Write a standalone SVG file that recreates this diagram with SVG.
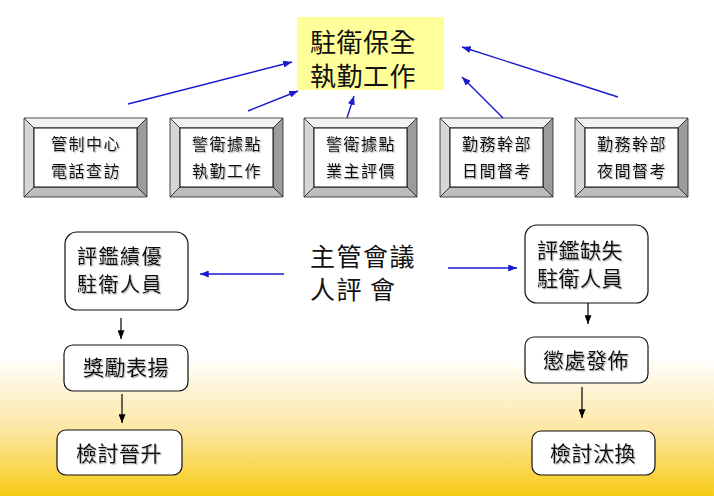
<svg xmlns="http://www.w3.org/2000/svg" width="714" height="496" viewBox="0 0 714 496">
<defs>
<linearGradient id="bg" x1="0" y1="0" x2="0" y2="1">
<stop offset="0" stop-color="#ffffff"/>
<stop offset="0.72" stop-color="#ffffff"/>
<stop offset="0.87" stop-color="#fce6a0"/>
<stop offset="1" stop-color="#f8cb14"/>
</linearGradient>
<marker id="ab" viewBox="0 0 10 8" refX="10" refY="4" markerWidth="9" markerHeight="7" markerUnits="userSpaceOnUse" orient="auto"><path d="M0,0 L10,4 L0,8 Z" fill="#1a1ad0"/></marker>
<marker id="ak" viewBox="0 0 10 8" refX="10" refY="4" markerWidth="9" markerHeight="7" markerUnits="userSpaceOnUse" orient="auto"><path d="M0,0 L10,4 L0,8 Z" fill="#000"/></marker>
<filter id="sh" x="-10%" y="-10%" width="120%" height="130%"><feDropShadow dx="1.2" dy="1.2" stdDeviation="0.6" flood-color="#888" flood-opacity="0.6"/></filter>
</defs>
<style>
text{font-family:"Noto Sans CJK TC","Noto Sans CJK SC",sans-serif;fill:#111;}
.t26{font-size:26px;letter-spacing:0.5px;}
.t25{font-size:25px;letter-spacing:1.5px;}
.t22{font-size:21px;letter-spacing:0.5px;filter:url(#sh);}
.t20{font-size:20px;letter-spacing:1.5px;filter:url(#sh);}
.t16{font-size:16px;letter-spacing:1.5px;text-anchor:middle;filter:url(#sh);}
.mid{text-anchor:middle;}
.bt{fill:#f2f2f2;stroke:#222;stroke-width:0.8;}
.bl{fill:#d6d6d6;stroke:#222;stroke-width:0.8;}
.br{fill:#9c9c9c;stroke:#222;stroke-width:0.8;}
.bb{fill:#bdbdbd;stroke:#222;stroke-width:0.8;}
.bi{fill:#ffffff;stroke:#111;stroke-width:1;}
.rb{fill:#ffffff;stroke:#111;stroke-width:1.2;}
.cb{stroke:#1a1ad0;stroke-width:1.4;fill:none;marker-end:url(#ab);}
.ck{stroke:#000;stroke-width:1.2;fill:none;marker-end:url(#ak);}
</style>
<rect x="0" y="0" width="714" height="496" fill="url(#bg)"/>

<g id="main">
<rect x="297" y="17" width="147" height="73" fill="#ffff99"/>
<text class="t26" x="310" y="52">駐衛保全<tspan x="310" dy="34">執勤工作</tspan></text>
</g>

<g id="box1">
<polygon class="bt" points="24,118 147,118 137,128 34,128"/>
<polygon class="bl" points="24,118 34,128 34,187 24,197"/>
<polygon class="br" points="147,118 147,197 137,187 137,128"/>
<polygon class="bb" points="24,197 34,187 137,187 147,197"/>
<rect class="bi" x="34" y="128" width="103" height="59"/>
<text class="t16" x="86" y="150">管制中心<tspan x="86" dy="27">電話查訪</tspan></text>
</g>
<g id="box2">
<polygon class="bt" points="170,118 283,118 273,128 180,128"/>
<polygon class="bl" points="170,118 180,128 180,187 170,197"/>
<polygon class="br" points="283,118 283,197 273,187 273,128"/>
<polygon class="bb" points="170,197 180,187 273,187 283,197"/>
<rect class="bi" x="180" y="128" width="93" height="59"/>
<text class="t16" x="227" y="150">警衛據點<tspan x="227" dy="27">執勤工作</tspan></text>
</g>
<g id="box3">
<polygon class="bt" points="304,118 417,118 407,128 314,128"/>
<polygon class="bl" points="304,118 314,128 314,187 304,197"/>
<polygon class="br" points="417,118 417,197 407,187 407,128"/>
<polygon class="bb" points="304,197 314,187 407,187 417,197"/>
<rect class="bi" x="314" y="128" width="93" height="59"/>
<text class="t16" x="361" y="150">警衛據點<tspan x="361" dy="27">業主評價</tspan></text>
</g>
<g id="box4">
<polygon class="bt" points="440,118 553,118 543,128 450,128"/>
<polygon class="bl" points="440,118 450,128 450,187 440,197"/>
<polygon class="br" points="553,118 553,197 543,187 543,128"/>
<polygon class="bb" points="440,197 450,187 543,187 553,197"/>
<rect class="bi" x="450" y="128" width="93" height="59"/>
<text class="t16" x="497" y="150">勤務幹部<tspan x="497" dy="27">日間督考</tspan></text>
</g>
<g id="box5">
<polygon class="bt" points="575,118 688,118 678,128 585,128"/>
<polygon class="bl" points="575,118 585,128 585,187 575,197"/>
<polygon class="br" points="688,118 688,197 678,187 678,128"/>
<polygon class="bb" points="575,197 585,187 678,187 688,197"/>
<rect class="bi" x="585" y="128" width="93" height="59"/>
<text class="t16" x="632" y="150">勤務幹部<tspan x="632" dy="27">夜間督考</tspan></text>
</g>

<g id="council">
<text class="t25" x="310" y="266">主管會議<tspan x="310" dy="33">人評 會</tspan></text>
</g>

<g id="merit">
<rect class="rb" x="65" y="232" width="123" height="78" rx="12"/>
<text class="t20" x="77" y="264">評鑑績優<tspan x="77" dy="28">駐衛人員</tspan></text>
</g>
<g id="reward">
<rect class="rb" x="64" y="345" width="124" height="46" rx="9"/>
<text class="t22 mid" x="126" y="375">獎勵表揚</text>
</g>
<g id="promote">
<rect class="rb" x="57" y="430" width="125" height="45" rx="9"/>
<text class="t22 mid" x="119" y="461">檢討晉升</text>
</g>
<g id="fault">
<rect class="rb" x="525" y="225" width="123" height="78" rx="12"/>
<text class="t22" x="537" y="258">評鑑缺失<tspan x="537" dy="28">駐衛人員</tspan></text>
</g>
<g id="punish">
<rect class="rb" x="525" y="337" width="123" height="46" rx="9"/>
<text class="t22 mid" x="586" y="368">懲處發佈</text>
</g>
<g id="replace">
<rect class="rb" x="532" y="431" width="123" height="44" rx="9"/>
<text class="t22 mid" x="593" y="461">檢討汰換</text>
</g>

<g id="connectors">
<line class="cb" x1="128" y1="104" x2="292" y2="62"/>
<line class="cb" x1="248" y1="111" x2="298" y2="91"/>
<line class="cb" x1="347" y1="118" x2="354" y2="96"/>
<line class="cb" x1="503" y1="118" x2="462" y2="77"/>
<line class="cb" x1="618" y1="97" x2="462" y2="47"/>
<line class="cb" x1="284" y1="274" x2="200" y2="274"/>
<line class="cb" x1="448" y1="268" x2="517" y2="268"/>
<line class="ck" x1="121" y1="318" x2="121" y2="339"/>
<line class="ck" x1="122" y1="394" x2="122" y2="423"/>
<line class="ck" x1="588" y1="303" x2="588" y2="324"/>
<line class="ck" x1="582" y1="387" x2="582" y2="418"/>
</g>
</svg>
